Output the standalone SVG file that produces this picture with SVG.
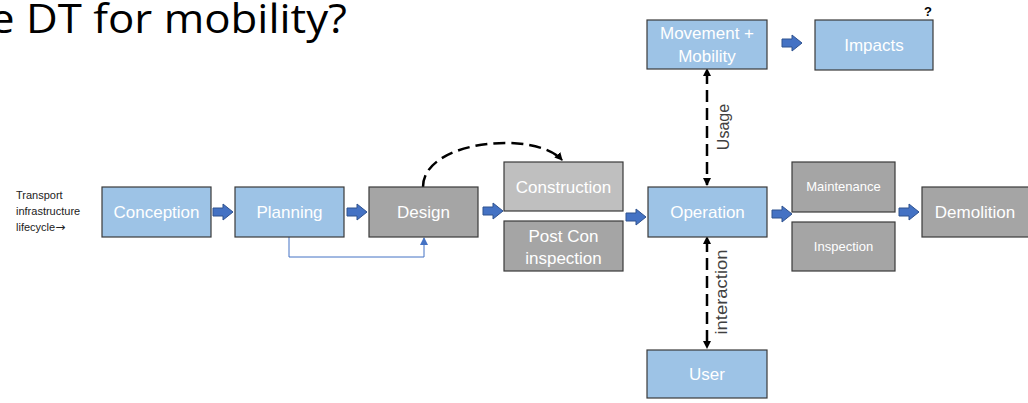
<svg xmlns="http://www.w3.org/2000/svg" width="1028" height="403" viewBox="0 0 1028 403">
<style>
.blue{fill:#9DC3E6;stroke:#3A3A3A;stroke-width:1.2}
.dg{fill:#A5A5A5;stroke:#3A3A3A;stroke-width:1.2}
.lg{fill:#BFBFBF;stroke:#3A3A3A;stroke-width:1.2}
.t{font-family:"Liberation Sans",Arial,sans-serif;fill:#fff;text-anchor:middle;font-size:17px}
.s{font-size:13px}
.lab{font-family:"Liberation Sans",Arial,sans-serif;fill:#404040;font-size:16px;text-anchor:middle}
.dash{fill:none;stroke:#000;stroke-width:2.5;stroke-dasharray:12 6}
.ba{fill:#4472C4;stroke:#2F528F;stroke-width:1}
</style>
<defs>
<path id="ba" d="M0,-4 H10 V-8 L20,0 L10,8 V4 H0 Z"/>
<marker id="ah" markerWidth="8" markerHeight="8" refX="7" refY="4" orient="auto" markerUnits="userSpaceOnUse">
<path d="M0,0 L8,4 L0,8 Z" fill="#000"/>
</marker>
<marker id="ahs" markerWidth="8" markerHeight="8" refX="4" refY="4" orient="auto-start-reverse" markerUnits="userSpaceOnUse">
<path d="M0,0 L8,4 L0,8 Z" fill="#000"/>
</marker>
<marker id="ab" markerWidth="8" markerHeight="8" refX="7" refY="4" orient="auto" markerUnits="userSpaceOnUse">
<path d="M0,0 L8,4 L0,8 Z" fill="#4472C4"/>
</marker>
</defs>
<rect width="1028" height="403" fill="#fff"/>
<text x="-10" y="33" font-family="'Open Sans','Liberation Sans',sans-serif" font-size="40" fill="#000" textLength="357" lengthAdjust="spacingAndGlyphs">e DT for mobility?</text>
<g id="caption" font-family="'Liberation Sans',Arial,sans-serif" font-size="11" fill="#222">
<text x="16" y="199">Transport</text>
<text x="16" y="215">infrastructure</text>
<text x="16" y="231">lifecycle<tspan font-family="'DejaVu Sans',sans-serif" font-size="12">→</tspan></text>
</g>
<g id="connectors">
<use href="#ba" class="ba" x="213" y="212"/>
<use href="#ba" class="ba" x="347" y="212"/>
<use href="#ba" class="ba" x="483" y="211"/>
<use href="#ba" class="ba" x="626" y="217"/>
<use href="#ba" class="ba" x="772" y="214"/>
<use href="#ba" class="ba" x="899" y="212"/>
<use href="#ba" class="ba" x="782" y="43"/>
<path d="M289,237 V257 H424 V238" fill="none" stroke="#4472C4" stroke-width="1" marker-end="url(#ab)"/>
<path class="dash" d="M423,187 C423,140 535,130 562,160" marker-end="url(#ah)"/>
<line class="dash" x1="707" y1="72" x2="707" y2="185" marker-start="url(#ahs)" marker-end="url(#ah)"/>
<line class="dash" x1="707" y1="240" x2="707" y2="348" marker-start="url(#ahs)" marker-end="url(#ah)"/>
<text class="lab" transform="translate(729,127) rotate(-90)">Usage</text>
<text class="lab" transform="translate(727,292) rotate(-90)" textLength="85" lengthAdjust="spacingAndGlyphs">interaction</text>
</g>
<g id="conception"><rect class="blue" x="102" y="187" width="109" height="50"/><text class="t" x="156.5" y="218">Conception</text></g>
<g id="planning"><rect class="blue" x="235" y="187" width="109" height="50"/><text class="t" x="289.5" y="218">Planning</text></g>
<g id="design"><rect class="dg" x="369" y="187" width="109" height="50"/><text class="t" x="423.5" y="218">Design</text></g>
<g id="construction"><rect class="lg" x="504" y="162" width="119" height="49"/><text class="t" x="563.5" y="193">Construction</text></g>
<g id="postcon"><rect class="dg" x="504" y="221" width="119" height="50"/><text class="t" x="563.5" y="242">Post Con</text><text class="t" x="563.5" y="264">inspection</text></g>
<g id="operation"><rect class="blue" x="648" y="187" width="119" height="50"/><text class="t" x="707.5" y="218">Operation</text></g>
<g id="maintenance"><rect class="dg" x="792" y="162" width="103" height="50"/><text class="t s" x="843.5" y="191">Maintenance</text></g>
<g id="inspection"><rect class="dg" x="792" y="222" width="103" height="49"/><text class="t s" x="843.5" y="251">Inspection</text></g>
<g id="demolition"><rect class="dg" x="922" y="187" width="110" height="50"/><text class="t" x="975" y="218">Demolition</text></g>
<g id="movement"><rect class="blue" x="647" y="20" width="120" height="49"/><text class="t" x="707" y="39">Movement +</text><text class="t" x="707" y="62">Mobility</text></g>
<g id="impacts"><rect class="blue" x="815" y="20" width="118" height="50"/><text class="t" x="874" y="51">Impacts</text><text x="928" y="16" font-family="'Liberation Sans',Arial,sans-serif" font-size="13" font-weight="bold" fill="#000" text-anchor="middle">?</text></g>
<g id="user"><rect class="blue" x="647" y="350" width="120" height="48"/><text class="t" x="707" y="380">User</text></g>
</svg>
